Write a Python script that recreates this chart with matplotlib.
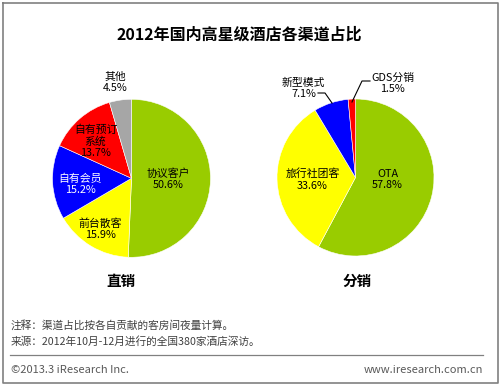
import matplotlib
matplotlib.use("Agg")
import matplotlib.pyplot as plt
import numpy as np

plt.rcParams['font.family'] = ['Noto Sans CJK SC', 'DejaVu Sans']

# ---- data ----
title = "2012年国内高星级酒店各渠道占比"
direct_labels = ["协议客户", "前台散客", "自有会员", "自有预订\n系统", "其他"]
direct_values = [50.6, 15.9, 15.2, 13.7, 4.5]
dist_labels = ["OTA", "旅行社团客", "新型模式", "GDS分销"]
dist_values = [57.8, 33.6, 7.1, 1.5]
direct_title = "直销"
dist_title = "分销"
note_lines = ["注释：渠道占比按各自贡献的客房间夜量计算。",
              "来源：2012年10月-12月进行的全国380家酒店深访。"]
footer_left = "©2013.3 iResearch Inc."
footer_right = "www.iresearch.com.cn"

# ---- styles / layout ----
direct_colors = ["#99CC00", "#FFFF00", "#0000FF", "#FF0000", "#A6A6A6"]
dist_colors = ["#99CC00", "#FFFF00", "#0000FF", "#FF0000"]
direct_text_colors = ["black", "black", "white", "black", "black"]
dist_text_colors = ["black", "black", "black", "black"]
# label offsets in pixels from pie centre (dx right, dy up)
direct_label_pos = [(37, -1), (-31, -51), (-51, -6), (-36, 37), (-16, 96)]
dist_label_pos = [(32, -2), (-43, -2), (-52, 89), (37, 94)]

W, H = 500, 385
fig = plt.figure(figsize=(W / 100, H / 100), dpi=100)


def draw_pie(cx, cy, r, values, colors):
    ax = fig.add_axes([(cx - r) / W, 1 - (cy + r) / H, 2 * r / W, 2 * r / H])
    ax.pie(values, colors=colors, startangle=90, counterclock=False,
           radius=1.0, wedgeprops=dict(edgecolor="white", linewidth=0.4))
    ax.set_xlim(-1, 1)
    ax.set_ylim(-1, 1)
    ax.set_aspect("auto")
    ax.axis("off")
    return ax


pies = [(131.5, 178.3, 79, direct_values, direct_labels, direct_colors,
         direct_text_colors, direct_label_pos),
        (355.5, 177.5, 78.5, dist_values, dist_labels, dist_colors,
         dist_text_colors, dist_label_pos)]
for cx, cy, r, vals, labs, cols, tcs, pos in pies:
    draw_pie(cx, cy, r, vals, cols)

# overlay for text and lines
bg = fig.add_axes([0, 0, 1, 1], zorder=10)
bg.patch.set_visible(False)
bg.set_xlim(0, W)
bg.set_ylim(H, 0)
bg.axis("off")

for cx, cy, r, vals, labs, cols, tcs, pos in pies:
    for lab, v, tc, (dx, dy) in zip(labs, vals, tcs, pos):
        bg.text(cx + dx, cy - dy, f"{lab}\n{v:.1f}%", ha="center", va="center",
                fontsize=7.8, color=tc, linespacing=1.2)

# leader lines (right pie)
bg.plot([318, 325, 332], [93, 93, 103], color="black", lw=0.8)
bg.plot([370, 362, 352], [81, 81, 102], color="black", lw=0.8)

# titles
bg.text(239, 35, title, ha="center", va="center", fontsize=11.5,
        fontweight="bold", color="black")
bg.text(121, 281, direct_title, ha="center", va="center", fontsize=10.5,
        fontweight="bold", color="black")
bg.text(357, 281, dist_title, ha="center", va="center", fontsize=10.5,
        fontweight="bold", color="black")

# notes
bg.text(11, 325, note_lines[0], ha="left", va="center", fontsize=7.7,
        color="#404040")
bg.text(11, 341, note_lines[1], ha="left", va="center", fontsize=7.7,
        color="#404040")
bg.plot([10, 483], [354.5, 354.5], color="#808080", lw=0.9)
bg.text(11, 370, footer_left, ha="left", va="center", fontsize=8,
        color="#595959")
bg.text(483, 370, footer_right, ha="right", va="center", fontsize=8,
        color="#595959")

# border
bg.plot([2.5, 497.5, 497.5, 2.5, 2.5], [2.5, 2.5, 382.5, 382.5, 2.5],
        color="#808080", lw=1.2)

fig.savefig("out.png", dpi=100)
